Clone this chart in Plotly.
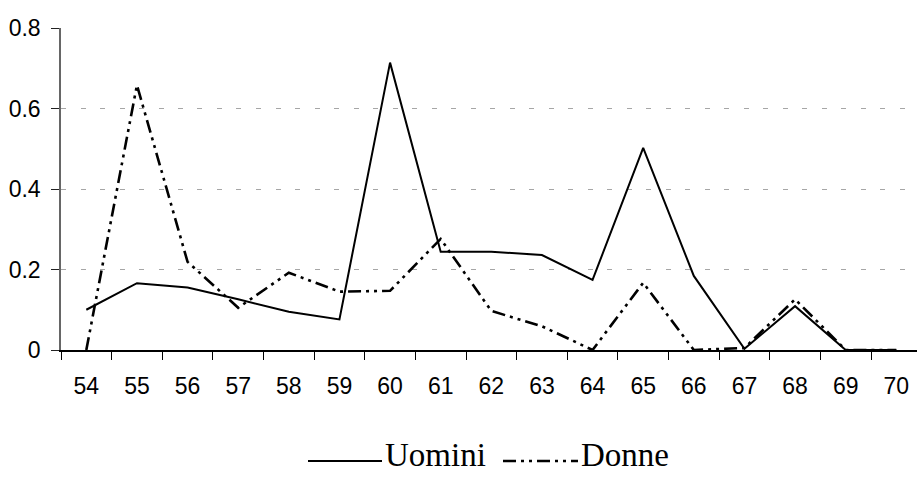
import plotly.graph_objects as go

# Age categories and series values
eta = ["54", "55", "56", "57", "58", "59", "60", "61", "62", "63",
       "64", "65", "66", "67", "68", "69", "70"]
uomini = [0.100, 0.166, 0.155, 0.126, 0.095, 0.076, 0.714, 0.244, 0.244, 0.236,
          0.174, 0.502, 0.184, 0.003, 0.109, 0.0, 0.0]
donne = [0.0, 0.658, 0.219, 0.105, 0.192, 0.145, 0.147, 0.276, 0.097, 0.059,
         0.0, 0.167, 0.0, 0.005, 0.126, 0.0, 0.0]
y_ticks = [0, 0.2, 0.4, 0.6, 0.8]
y_labels = ["0", "0.2", "0.4", "0.6", "0.8"]

W, H = 917, 477
L, R, T, B = 61, 0, 28, 127
PW, PH = W - L - R, H - T - B

DONNE_DASH = "13px,5px,3px,5px,3px,5px"
TICK_FONT = dict(family="Liberation Sans, Arial", size=23, color="#000")
LEG_FONT = dict(family="Liberation Serif, Times New Roman, serif", size=33, color="#000")


def px_x(px):
    return (px - L) / PW


def px_y(py):
    return (H - B - py) / PH


fig = go.Figure()
fig.add_trace(go.Scatter(x=eta, y=uomini, mode="lines", name="Uomini",
                         line=dict(color="#000", width=2)))
fig.add_trace(go.Scatter(x=eta, y=donne, mode="lines", name="Donne",
                         line=dict(color="#000", width=2.6, dash=DONNE_DASH)))

# legend drawn below the plot: line sample followed by its label
legend_items = [("Uomini", 308, 382, "solid", 2),
                ("Donne", 503, 578, DONNE_DASH, 2.6)]
for name, x0, x1, dash, w in legend_items:
    fig.add_shape(type="line", xref="paper", yref="paper",
                  x0=px_x(x0), x1=px_x(x1), y0=px_y(461), y1=px_y(461),
                  line=dict(color="#000", width=w, dash=dash))
    fig.add_annotation(text=name, xref="paper", yref="paper",
                       x=px_x(x1 + 1), y=px_y(455), xanchor="left", yanchor="middle",
                       showarrow=False, font=LEG_FONT)

fig.update_layout(
    width=W, height=H,
    margin=dict(l=L, r=R, t=T, b=B, pad=0),
    paper_bgcolor="white", plot_bgcolor="white",
    showlegend=False,
    xaxis=dict(
        type="category", range=[-0.5, -0.5 + PW / 50.625],
        tickson="boundaries", ticks="outside", ticklen=8, tickwidth=1.3,
        tickcolor="#000", showline=True, linecolor="#000", linewidth=1.5,
        showgrid=False, tickfont=TICK_FONT, ticklabelstandoff=15,
    ),
    yaxis=dict(
        range=[0, 0.8], tickvals=y_ticks, ticktext=y_labels,
        ticks="outside", ticklen=8, tickwidth=1.3, tickcolor="#222",
        showline=True, linecolor="#666", linewidth=1.5,
        showgrid=True, gridcolor="#a6a6a6", gridwidth=1, griddash="5px,14.5px",
        zeroline=False, tickfont=TICK_FONT, ticklabelstandoff=6,
    ),
)

fig.write_html("out.html")
